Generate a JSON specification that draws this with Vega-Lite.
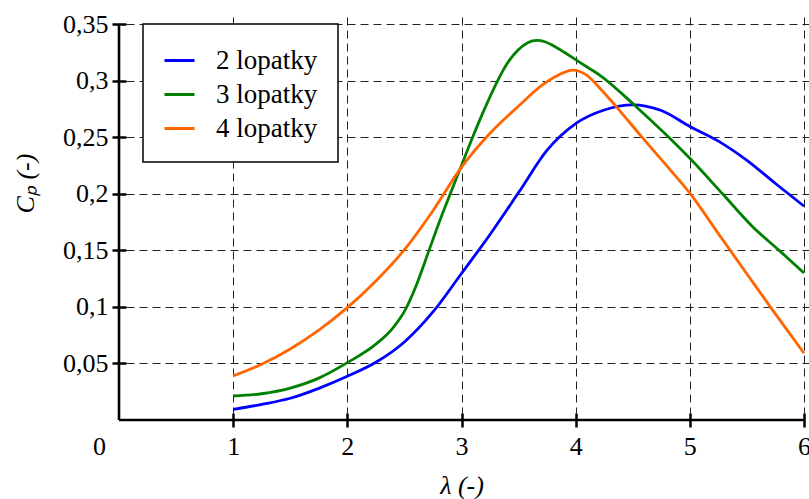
{
  "$schema": "https://vega.github.io/schema/vega-lite/v6.json",
  "width": 685,
  "height": 396,
  "autosize": {"type": "none"},
  "padding": {"left": 119, "top": 24, "right": 5, "bottom": 79},
  "config": {
    "view": {"stroke": null},
    "font": "Liberation Serif",
    "axis": {
      "labelFont": "Liberation Serif",
      "titleFont": "Liberation Serif",
      "labelColor": "black",
      "titleColor": "black",
      "labelFontSize": 26,
      "titleFontSize": 26,
      "titleFontWeight": "normal",
      "titleFontStyle": "italic",
      "domain": false,
      "offset": -7,
      "tickSize": 14,
      "tickWidth": 2.5,
      "tickColor": "black",
      "grid": true,
      "gridColor": "#222222",
      "gridDash": [8, 5],
      "gridWidth": 1,
      "labelFlush": false,
      "labelOverlap": false,
      "labelBound": false
    },
    "legend": {
      "labelFont": "Liberation Serif",
      "labelFontSize": 27,
      "labelColor": "black",
      "strokeWidth": 1.5
    }
  },
  "layer": [
    {
      "data": {
        "values": [
          {"lambda": 1.0, "cp": 0.0094, "series": "2 lopatky"},
          {"lambda": 1.25, "cp": 0.0138, "series": "2 lopatky"},
          {"lambda": 1.5, "cp": 0.0192, "series": "2 lopatky"},
          {"lambda": 1.75, "cp": 0.028, "series": "2 lopatky"},
          {"lambda": 2.0, "cp": 0.0386, "series": "2 lopatky"},
          {"lambda": 2.25, "cp": 0.051, "series": "2 lopatky"},
          {"lambda": 2.5, "cp": 0.069, "series": "2 lopatky"},
          {"lambda": 2.75, "cp": 0.0955, "series": "2 lopatky"},
          {"lambda": 3.0, "cp": 0.1295, "series": "2 lopatky"},
          {"lambda": 3.25, "cp": 0.164, "series": "2 lopatky"},
          {"lambda": 3.5, "cp": 0.201, "series": "2 lopatky"},
          {"lambda": 3.75, "cp": 0.2385, "series": "2 lopatky"},
          {"lambda": 4.0, "cp": 0.262, "series": "2 lopatky"},
          {"lambda": 4.25, "cp": 0.274, "series": "2 lopatky"},
          {"lambda": 4.5, "cp": 0.2785, "series": "2 lopatky"},
          {"lambda": 4.75, "cp": 0.2735, "series": "2 lopatky"},
          {"lambda": 5.0, "cp": 0.2595, "series": "2 lopatky"},
          {"lambda": 5.25, "cp": 0.2465, "series": "2 lopatky"},
          {"lambda": 5.5, "cp": 0.2295, "series": "2 lopatky"},
          {"lambda": 5.75, "cp": 0.209, "series": "2 lopatky"},
          {"lambda": 6.0, "cp": 0.189, "series": "2 lopatky"},

          {"lambda": 1.0, "cp": 0.0212, "series": "3 lopatky"},
          {"lambda": 1.25, "cp": 0.0232, "series": "3 lopatky"},
          {"lambda": 1.5, "cp": 0.0282, "series": "3 lopatky"},
          {"lambda": 1.75, "cp": 0.037, "series": "3 lopatky"},
          {"lambda": 2.0, "cp": 0.0507, "series": "3 lopatky"},
          {"lambda": 2.25, "cp": 0.067, "series": "3 lopatky"},
          {"lambda": 2.4, "cp": 0.0815, "series": "3 lopatky"},
          {"lambda": 2.5, "cp": 0.096, "series": "3 lopatky"},
          {"lambda": 2.6, "cp": 0.118, "series": "3 lopatky"},
          {"lambda": 2.7, "cp": 0.1455, "series": "3 lopatky"},
          {"lambda": 2.8, "cp": 0.1735, "series": "3 lopatky"},
          {"lambda": 2.9, "cp": 0.1995, "series": "3 lopatky"},
          {"lambda": 3.0, "cp": 0.225, "series": "3 lopatky"},
          {"lambda": 3.1, "cp": 0.2505, "series": "3 lopatky"},
          {"lambda": 3.2, "cp": 0.2745, "series": "3 lopatky"},
          {"lambda": 3.3, "cp": 0.2965, "series": "3 lopatky"},
          {"lambda": 3.4, "cp": 0.315, "series": "3 lopatky"},
          {"lambda": 3.5, "cp": 0.3275, "series": "3 lopatky"},
          {"lambda": 3.58, "cp": 0.3335, "series": "3 lopatky"},
          {"lambda": 3.66, "cp": 0.3355, "series": "3 lopatky"},
          {"lambda": 3.73, "cp": 0.3343, "series": "3 lopatky"},
          {"lambda": 3.8, "cp": 0.331, "series": "3 lopatky"},
          {"lambda": 3.9, "cp": 0.325, "series": "3 lopatky"},
          {"lambda": 4.0, "cp": 0.3185, "series": "3 lopatky"},
          {"lambda": 4.1, "cp": 0.312, "series": "3 lopatky"},
          {"lambda": 4.21, "cp": 0.3049, "series": "3 lopatky"},
          {"lambda": 4.53, "cp": 0.2769, "series": "3 lopatky"},
          {"lambda": 4.795, "cp": 0.2519, "series": "3 lopatky"},
          {"lambda": 5.0, "cp": 0.2313, "series": "3 lopatky"},
          {"lambda": 5.29, "cp": 0.1995, "series": "3 lopatky"},
          {"lambda": 5.55, "cp": 0.1709, "series": "3 lopatky"},
          {"lambda": 5.787, "cp": 0.1495, "series": "3 lopatky"},
          {"lambda": 6.0, "cp": 0.13, "series": "3 lopatky"},

          {"lambda": 1.0, "cp": 0.039, "series": "4 lopatky"},
          {"lambda": 1.25, "cp": 0.0493, "series": "4 lopatky"},
          {"lambda": 1.5, "cp": 0.0628, "series": "4 lopatky"},
          {"lambda": 1.75, "cp": 0.0795, "series": "4 lopatky"},
          {"lambda": 2.0, "cp": 0.0993, "series": "4 lopatky"},
          {"lambda": 2.25, "cp": 0.1229, "series": "4 lopatky"},
          {"lambda": 2.5, "cp": 0.1505, "series": "4 lopatky"},
          {"lambda": 2.75, "cp": 0.185, "series": "4 lopatky"},
          {"lambda": 3.0, "cp": 0.2235, "series": "4 lopatky"},
          {"lambda": 3.25, "cp": 0.2535, "series": "4 lopatky"},
          {"lambda": 3.5, "cp": 0.2775, "series": "4 lopatky"},
          {"lambda": 3.7, "cp": 0.2955, "series": "4 lopatky"},
          {"lambda": 3.85, "cp": 0.305, "series": "4 lopatky"},
          {"lambda": 3.975, "cp": 0.3093, "series": "4 lopatky"},
          {"lambda": 4.09, "cp": 0.3052, "series": "4 lopatky"},
          {"lambda": 4.21, "cp": 0.2935, "series": "4 lopatky"},
          {"lambda": 4.357, "cp": 0.2768, "series": "4 lopatky"},
          {"lambda": 4.56, "cp": 0.2525, "series": "4 lopatky"},
          {"lambda": 4.795, "cp": 0.225, "series": "4 lopatky"},
          {"lambda": 5.0, "cp": 0.2005, "series": "4 lopatky"},
          {"lambda": 5.262, "cp": 0.163, "series": "4 lopatky"},
          {"lambda": 5.525, "cp": 0.1255, "series": "4 lopatky"},
          {"lambda": 5.73, "cp": 0.0965, "series": "4 lopatky"},
          {"lambda": 6.0, "cp": 0.059, "series": "4 lopatky"}
        ]
      },
      "mark": {"type": "line", "interpolate": "monotone", "strokeWidth": 2.8},
      "encoding": {
        "x": {
          "field": "lambda",
          "type": "quantitative",
          "scale": {"domain": [0, 6], "nice": false, "zero": false},
          "axis": {
            "values": [0, 1, 2, 3, 4, 5, 6],
            "format": "d",
            "labelPadding": 6,
            "labelOffset": {"condition": {"test": "datum.value == 0", "value": -20}, "value": 0},
            "tickOpacity": {"condition": {"test": "datum.value == 0", "value": 0}, "value": 1},
            "gridOpacity": {"condition": {"test": "datum.value == 0", "value": 0}, "value": 1},
            "title": "λ (-)",
            "titleY": 72,
            "titleBaseline": "middle"
          }
        },
        "y": {
          "field": "cp",
          "type": "quantitative",
          "scale": {"domain": [0, 0.35], "nice": false, "zero": false},
          "axis": {
            "values": [0.05, 0.1, 0.15, 0.2, 0.25, 0.3, 0.35],
            "labelPadding": 4,
            "labelExpr": "replace(format(datum.value, '.2~f'), '.', ',')",
            "title": "Cₚ (-)",
            "titleAngle": 270,
            "titleX": -101,
            "titleY": 159,
            "titleAlign": "center",
            "titleBaseline": "middle"
          }
        },
        "color": {
          "field": "series",
          "type": "nominal",
          "scale": {
            "domain": ["2 lopatky", "3 lopatky", "4 lopatky"],
            "range": ["#0000ff", "#008000", "#ff6600"]
          },
          "legend": {
            "orient": "none",
            "legendX": 24,
            "legendY": 0,
            "title": null,
            "fillColor": "white",
            "strokeColor": "black",
            "padding": 20,
            "symbolType": "stroke",
            "symbolSize": 900,
            "symbolStrokeWidth": 3,
            "labelOffset": 20,
            "rowPadding": 4,
            "labelExpr": "datum.label + '\u00a0\u00a0'"
          }
        }
      }
    },
    {
      "data": {"values": [{}]},
      "mark": {"type": "rule", "color": "black", "strokeWidth": 2.6},
      "encoding": {
        "x": {"datum": 0, "type": "quantitative"}
      }
    },
    {
      "data": {"values": [{}]},
      "mark": {"type": "rule", "color": "black", "strokeWidth": 2.6},
      "encoding": {
        "y": {"datum": 0, "type": "quantitative"}
      }
    }
  ]
}
